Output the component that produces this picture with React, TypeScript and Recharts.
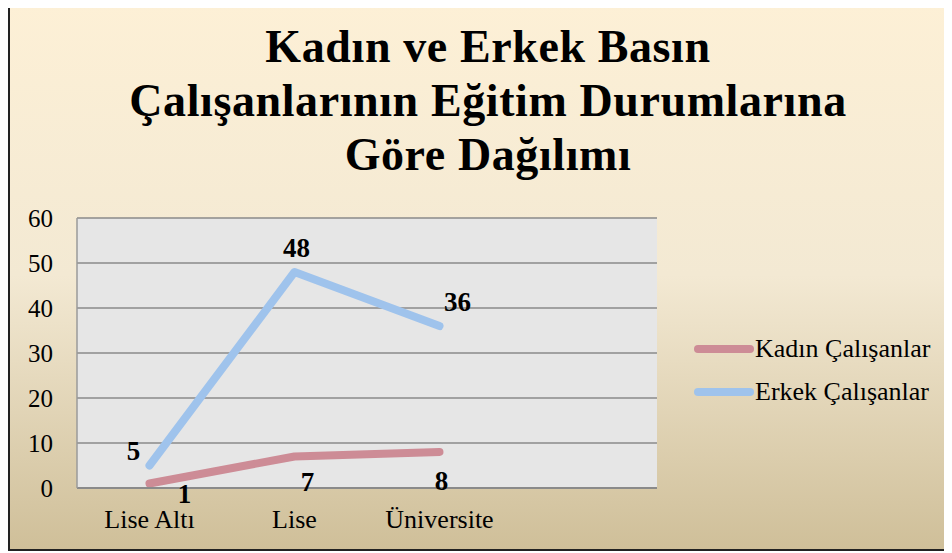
import { CartesianGrid, LabelList, Legend, Line, LineChart, XAxis, YAxis } from "recharts";

const categories = ["Lise Altı", "Lise", "Üniversite", ""];
const kadin = [1, 7, 8, null];
const erkek = [5, 48, 36, null];
const yTicks = [0, 10, 20, 30, 40, 50, 60];

const data = categories.map((name, i) => ({
  name,
  kadin: kadin[i],
  erkek: erkek[i],
}));

const serif = '"Liberation Serif", "Times New Roman", serif';
const KADIN_COLOR = "#cd8c96";
const ERKEK_COLOR = "#9fc3ec";

// label nudges, mimicking the Excel label placement
const kadinNudge = [
  [35, 10],
  [13, 25],
  [2, 29],
];
const erkekNudge = [
  [-16, -15],
  [2, -24],
  [18, -24],
];

const makeLabel = (nudge: number[][]) => (props: any) => {
  const { x, y, value, index } = props;
  if (value == null) return null;
  const [dx, dy] = nudge[index] || [0, 0];
  return (
    <text
      x={x + dx}
      y={y + dy}
      textAnchor="middle"
      dominantBaseline="central"
      fontFamily={serif}
      fontWeight="bold"
      fontSize={27}
      fill="#000"
    >
      {value}
    </text>
  );
};

const YTick = (props: any) => {
  const { x, y, payload } = props;
  return (
    <text
      x={x}
      y={y}
      textAnchor="end"
      dominantBaseline="central"
      fontFamily={serif}
      fontSize={25}
      fill="#000"
    >
      {payload.value}
    </text>
  );
};

const XTick = (props: any) => {
  const { x, y, payload } = props;
  return (
    <text
      x={x}
      y={y + 34}
      textAnchor="middle"
      fontFamily={serif}
      fontSize={26}
      fill="#000"
    >
      {payload.value}
    </text>
  );
};

const renderLegend = () => (
  <div style={{ fontFamily: serif, fontSize: 26, color: "#000" }}>
    {[
      { label: "Kadın Çalışanlar", color: KADIN_COLOR },
      { label: "Erkek Çalışanlar", color: ERKEK_COLOR },
    ].map((item) => (
      <div
        key={item.label}
        style={{ display: "flex", alignItems: "center", height: 43 }}
      >
        <span
          style={{
            display: "inline-block",
            width: 60,
            height: 8,
            borderRadius: 4,
            background: item.color,
          }}
        />
        <span style={{ marginLeft: 1 }}>{item.label}</span>
      </div>
    ))}
  </div>
);

const App = () => {
  return (
    <div
      style={{
        position: "relative",
        width: 944,
        height: 551,
        marginTop: -8,
        boxSizing: "border-box",
        borderTop: "1px solid #9a9a9a",
        borderLeft: "2px solid #222",
        borderBottom: "2px solid #222",
        background:
          "linear-gradient(to bottom, #fdf0d6 0%, #f3e9d3 50%, #cfbf99 100%)",
        overflow: "hidden",
      }}
    >
      <div
        style={{
          position: "absolute",
          left: 0,
          top: 19,
          width: 956,
          textAlign: "center",
          fontFamily: serif,
          fontWeight: "bold",
          fontSize: 46,
          lineHeight: "54px",
          letterSpacing: 0.6,
          color: "#000",
        }}
      >
        Kadın ve Erkek Basın
        <br />
        Çalışanlarının Eğitim Durumlarına
        <br />
        Göre Dağılımı
      </div>
      <LineChart
        width={942}
        height={548}
        data={data}
        margin={{ top: 217, right: 295, bottom: 21, left: 0 }}
      >
        <CartesianGrid
          vertical={false}
          stroke="#8a8a8a"
          strokeWidth={1.5}
          fill="#e6e6e6"
          fillOpacity={1}
        />
        <XAxis
          dataKey="name"
          scale="band"
          height={40}
          tickLine={false}
          tickMargin={0}
          axisLine={{ stroke: "#8a8a8a", strokeWidth: 2 }}
          tick={<XTick />}
          interval={0}
        />
        <YAxis
          width={67}
          domain={[0, 60]}
          ticks={yTicks}
          interval={0}
          tickLine={false}
          tickMargin={18}
          axisLine={{ stroke: "#9a9a9a", strokeWidth: 1.5 }}
          tick={<YTick />}
        />
        <Legend
          layout="vertical"
          align="center"
          verticalAlign="middle"
          content={renderLegend}
          wrapperStyle={{ position: "absolute", left: 684, top: 326, width: 260 }}
        />
        <Line
          dataKey="kadin"
          name="Kadın Çalışanlar"
          stroke={KADIN_COLOR}
          strokeWidth={8}
          strokeLinecap="round"
          strokeLinejoin="round"
          dot={false}
          activeDot={false}
          isAnimationActive={false}
        >
          <LabelList dataKey="kadin" content={makeLabel(kadinNudge)} />
        </Line>
        <Line
          dataKey="erkek"
          name="Erkek Çalışanlar"
          stroke={ERKEK_COLOR}
          strokeWidth={8}
          strokeLinecap="round"
          strokeLinejoin="round"
          dot={false}
          activeDot={false}
          isAnimationActive={false}
        >
          <LabelList dataKey="erkek" content={makeLabel(erkekNudge)} />
        </Line>
      </LineChart>
    </div>
  );
};

export default App;
